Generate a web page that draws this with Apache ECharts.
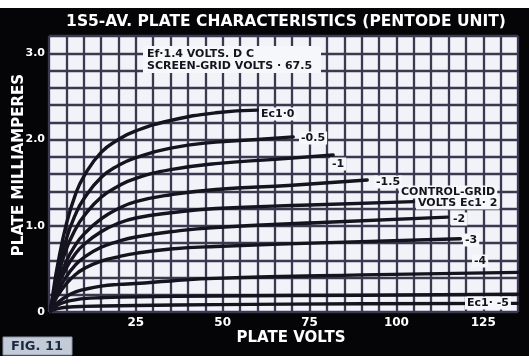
<!DOCTYPE html>
<html>
<head>
<meta charset="utf-8">
<script src="https://cdn.jsdelivr.net/npm/echarts@6/dist/echarts.min.js"></script>
<style>
html,body{margin:0;padding:0;background:#fff;}
#c{width:529px;height:364px;}
</style>
</head>
<body>
<div id="c"></div>
<script>
// ---- data (plate volts, plate milliamperes) ----
const titleText = '1S5-AV. PLATE CHARACTERISTICS (PENTODE UNIT)';
const yAxisTitle = 'PLATE MILLIAMPERES';
const xAxisTitle = 'PLATE VOLTS';
const xTickLabels = [25, 50, 75, 100, 125];
const yTickLabels = [0, 1, 2, 3];

const ec1_0   = [[0.5,0.04],[1,0.18],[2.5,0.55],[5,1.02],[7.5,1.35],[10,1.57],[15,1.85],[20,2.00],[25,2.10],[35,2.22],[48,2.31],[60,2.34]];
const ec1_m05 = [[0.5,0.04],[1,0.15],[2.5,0.46],[5,0.85],[7.5,1.12],[10,1.31],[15,1.56],[20,1.70],[25,1.79],[35,1.90],[48,1.97],[60,2.00],[70.3,2.03]];
const ec1_m1  = [[0.5,0.04],[1,0.13],[2.5,0.40],[5,0.73],[7.5,0.95],[10,1.11],[15,1.33],[20,1.46],[25,1.55],[35,1.65],[48,1.72],[65,1.77],[81.8,1.82]];
const ec1_m15 = [[0.5,0.03],[1,0.11],[2.5,0.33],[5,0.59],[7.5,0.77],[10,0.90],[15,1.08],[20,1.20],[25,1.28],[35,1.36],[48,1.42],[70,1.47],[91.6,1.53]];
const ec1_ctl = [[0.5,0.03],[1,0.10],[2.5,0.29],[5,0.51],[7.5,0.67],[10,0.78],[15,0.93],[20,1.03],[25,1.09],[35,1.15],[48,1.20],[75,1.24],[104.9,1.28]];
const ec1_m2  = [[0.5,0.03],[1,0.08],[2.5,0.23],[5,0.41],[7.5,0.54],[10,0.63],[15,0.75],[20,0.82],[25,0.87],[35,0.93],[48,0.98],[80,1.04],[114.7,1.10]];
const ec1_m3  = [[0.5,0.02],[1,0.07],[2.5,0.19],[5,0.33],[7.5,0.43],[10,0.50],[15,0.59],[20,0.64],[25,0.68],[35,0.73],[48,0.76],[85,0.81],[118.4,0.85]];
const ec1_m4  = [[0.5,0.02],[1,0.05],[2.5,0.11],[5,0.18],[7.5,0.23],[10,0.26],[15,0.30],[20,0.32],[25,0.33],[35,0.36],[48,0.39],[90,0.43],[135,0.46]];
const ec1_m5  = [[0.5,0.01],[1,0.035],[2.5,0.08],[5,0.12],[7.5,0.14],[10,0.155],[15,0.165],[25,0.175],[48,0.185],[90,0.195],[135,0.205]];
const ec1_low = [[0.5,0.01],[1,0.02],[2.5,0.04],[5,0.055],[10,0.065],[25,0.075],[48,0.085],[90,0.095],[135,0.10]];

const curves = [ec1_0, ec1_m05, ec1_m1, ec1_m15, ec1_ctl, ec1_m2, ec1_m3, ec1_m4, ec1_m5, ec1_low];

// curve labels: [text, x px, y px]
const curveLabels = [
  ['Ec1·0', 259, 114],
  ['-0.5', 299, 138],
  ['-1', 330, 164],
  ['-1.5', 374, 182],
  ['CONTROL-GRID', 399, 192],
  ['VOLTS Ec1· 2', 416, 203],
  ['-2', 451, 219],
  ['-3', 463, 240],
  ['-4', 472, 261],
  ['Ec1· -5', 465, 303]
];

const INK = '#15131e';
const GRIDC = '#3b3950';

const chart = echarts.init(document.getElementById('c'), null, {renderer:'canvas'});

const graphics = [
  {type:'rect', shape:{x:0,y:0,width:529,height:8}, style:{fill:'#ffffff'}, z:1},
  {type:'rect', shape:{x:0,y:356,width:529,height:8}, style:{fill:'#ffffff'}, z:1},
  {type:'text', x:286, y:22, style:{text:titleText, fill:'#ffffff', font:'bold 15.5px "DejaVu Sans"', textAlign:'center', textVerticalAlign:'middle'}, z:100},
  {type:'text', x:19, y:165, rotation:Math.PI/2, style:{text:yAxisTitle, fill:'#ffffff', font:'bold 15px "DejaVu Sans"', textAlign:'center', textVerticalAlign:'middle'}, z:100},
  {type:'text', x:291, y:338, style:{text:xAxisTitle, fill:'#ffffff', font:'bold 15px "DejaVu Sans"', textAlign:'center', textVerticalAlign:'middle'}, z:100},
  {type:'rect', shape:{x:3,y:337,width:69,height:18}, style:{fill:'#c3cbd8', stroke:'#8d97a8', lineWidth:1}, z:100},
  {type:'text', x:37, y:346.5, style:{text:'FIG. 11', fill:'#1c2840', font:'bold 13px "DejaVu Sans"', textAlign:'center', textVerticalAlign:'middle'}, z:101},
  {type:'rect', shape:{x:143,y:46,width:178,height:27}, style:{fill:'#f6f7fa'}, z:100},
  {type:'text', x:147, y:54, style:{text:'Ef·1.4 VOLTS. D C', fill:INK, font:'bold 11px "DejaVu Sans"', textAlign:'left', textVerticalAlign:'middle'}, z:101},
  {type:'text', x:147, y:66, style:{text:'SCREEN-GRID VOLTS · 67.5', fill:INK, font:'bold 11px "DejaVu Sans"', textAlign:'left', textVerticalAlign:'middle'}, z:101}
];
curveLabels.forEach(function(l){
  graphics.push({type:'text', x:l[1], y:l[2], style:{text:l[0], fill:INK, font:'bold 11px "DejaVu Sans"', textAlign:'left', textVerticalAlign:'middle', backgroundColor:'#f6f7fa', padding:[1,2,1,2]}, z:101});
});

function near(v, t){ return Math.abs(v - t) < 1e-6; }

const option = {
  animation:false,
  backgroundColor:'#050507',
  grid:{left:49, right:11, top:36, bottom:52, show:true, backgroundColor:'#f2f3f8', borderWidth:0},
  xAxis:{
    type:'value', min:0, max:135, interval:5,
    axisLine:{show:false}, axisTick:{show:false},
    splitLine:{show:true, lineStyle:{color:GRIDC, width:2.3}},
    axisLabel:{
      interval:0, hideOverlap:false, margin:5, color:'#ffffff',
      fontFamily:'DejaVu Sans', fontWeight:'bold', fontSize:12,
      formatter:function(v){ for (const t of xTickLabels){ if (near(v,t)) return String(t); } return ''; }
    }
  },
  yAxis:{
    type:'value', min:0, max:3.2, interval:0.2,
    axisLine:{show:false}, axisTick:{show:false},
    splitLine:{show:true, lineStyle:{color:GRIDC, width:2.3}},
    axisLabel:{
      interval:0, hideOverlap:false, margin:4, color:'#ffffff',
      fontFamily:'DejaVu Sans', fontWeight:'bold', fontSize:11,
      formatter:function(v){ for (const t of yTickLabels){ if (near(v,t)) return t===0 ? '0' : t.toFixed(1); } return ''; }
    }
  },
  series: curves.map(function(d){
    return {type:'line', data:d, smooth:0.5, showSymbol:false, symbol:'none',
      lineStyle:{color:INK, width:3.4, cap:'round', join:'round'}, z:5};
  }),
  graphic: graphics
};
chart.setOption(option);
</script>
</body>
</html>
